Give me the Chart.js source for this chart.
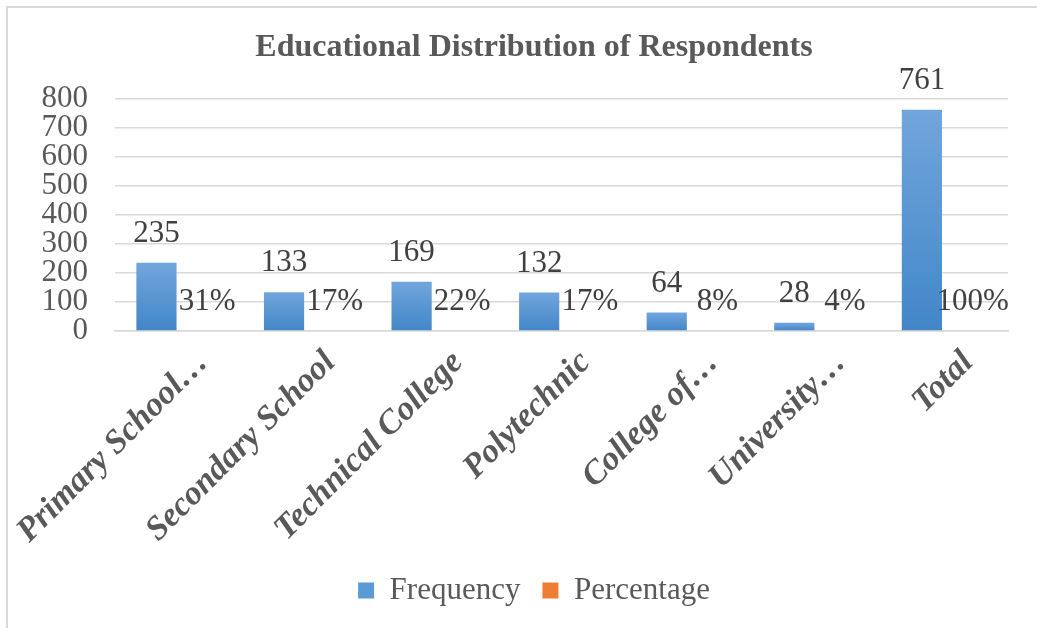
<!DOCTYPE html>
<html>
<head>
<meta charset="utf-8">
<title>Educational Distribution of Respondents</title>
<script src="https://cdn.jsdelivr.net/npm/chart.js@4.4.1/dist/chart.umd.min.js"></script>
<style>
    html, body { margin: 0; padding: 0; background: #fff; }
    #wrap { position: relative; width: 1037px; height: 628px; }
</style>
</head>
<body>
<div id="wrap">
    <canvas id="educationChart" width="1037" height="628"></canvas>
</div>
<script>
// Данные диаграммы
const categories = ["Primary School…", "Secondary School", "Technical College", "Polytechnic", "College of…", "University…", "Total"];
const frequency = [235, 133, 169, 132, 64, 28, 761];
const percentage = [0.31, 0.17, 0.22, 0.17, 0.08, 0.04, 1.00];
const yMin = 0;
const yMax = 800;
const yStep = 100;

const serif = "'Liberation Serif', 'Times New Roman', serif";
const axisColor = "#595959";
const labelColor = "#404040";

// Градиент для каждого столбца
function barGradient(context, top, bottom) {
    let chart = context.chart;
    if (!chart.chartArea || !chart.scales.y) return top;
    let y = chart.scales.y;
    let y0 = y.getPixelForValue(0);
    let y1 = y.getPixelForValue(context.raw || 0);
    if (!isFinite(y1) || Math.abs(y0 - y1) < 1) return "rgba(0,0,0,0)";
    let g = chart.ctx.createLinearGradient(0, y1, 0, y0);
    g.addColorStop(0, top);
    g.addColorStop(1, bottom);
    return g;
}

// Рамка слева и сверху
const framePlugin = {
    id: "frame",
    beforeDraw(chart) {
        let ctx = chart.ctx;
        ctx.save();
        ctx.strokeStyle = "#d9d9d9";
        ctx.lineWidth = 2;
        ctx.beginPath();
        ctx.moveTo(7, 628);
        ctx.lineTo(7, 7);
        ctx.lineTo(1037, 7);
        ctx.stroke();
        ctx.restore();
    }
};

// Подписи значений над столбцами
const valueLabels = {
    id: "valueLabels",
    afterDatasetsDraw(chart) {
        let ctx = chart.ctx;
        ctx.save();
        ctx.font = "31px " + serif;
        ctx.fillStyle = labelColor;
        ctx.textAlign = "center";
        ctx.textBaseline = "middle";
        chart.data.datasets.forEach((ds, i) => {
            let meta = chart.getDatasetMeta(i);
            meta.data.forEach((bar, j) => {
                let v = ds.data[j];
                let text = i === 1 ? Math.round(v * 100) + "%" : String(v);
                let dx = i === 1 ? 6 : 0;
                ctx.fillText(text, bar.x + dx, bar.y - 29);
            });
        });
        ctx.restore();
    }
};

let ctx = document.getElementById("educationChart").getContext("2d");
let educationChart = new Chart(ctx, {
    type: "bar",
    data: {
        labels: categories,
        datasets: [{
            label: "Frequency",
            data: frequency,
            backgroundColor: c => barGradient(c, "#71a6dc", "#4286c8"),
            categoryPercentage: 0.7,
            barPercentage: 0.9
        }, {
            label: "Percentage",
            data: percentage,
            backgroundColor: c => barGradient(c, "#f0914c", "#e4701f"),
            categoryPercentage: 0.7,
            barPercentage: 0.9
        }]
    },
    options: {
        responsive: false,
        animation: false,
        layout: { padding: { left: 36, right: 5, top: 10, bottom: 12 } },
        plugins: {
            tooltip: { enabled: false },
            title: {
                display: true,
                text: "Educational Distribution of Respondents",
                color: axisColor,
                font: { family: serif, size: 32, weight: "bold" },
                padding: { top: 19, bottom: 31 }
            },
            legend: {
                position: "bottom",
                labels: {
                    color: axisColor,
                    font: { family: serif, size: 31 },
                    boxWidth: 16,
                    boxHeight: 16,
                    padding: 22,
                    generateLabels: function (chart) {
                        let fills = ["#5b9bd5", "#ed7d31"];
                        return chart.data.datasets.map((ds, i) => ({
                            text: ds.label,
                            fillStyle: fills[i],
                            strokeStyle: fills[i],
                            lineWidth: 0,
                            fontColor: axisColor,
                            datasetIndex: i
                        }));
                    }
                }
            }
        },
        scales: {
            x: {
                grid: { display: false },
                border: { color: "#d9d9d9", width: 1.5 },
                ticks: {
                    color: axisColor,
                    font: { family: serif, size: 34, weight: "bold", style: "italic" },
                    minRotation: 45,
                    maxRotation: 45,
                    autoSkip: false,
                    padding: 4,
                    labelOffset: 24
                },
                afterFit: function (scale) {
                    scale.height = 222;
                    scale.paddingLeft = 0;
                    scale.paddingRight = 29;
                }
            },
            y: {
                min: yMin,
                max: yMax,
                grid: { color: "#d9d9d9", lineWidth: 1.5, drawTicks: false },
                border: { display: false },
                ticks: {
                    stepSize: yStep,
                    autoSkip: false,
                    color: axisColor,
                    font: { family: serif, size: 31 },
                    padding: 27
                },
                afterFit: function (scale) { scale.width = 79; }
            }
        }
    },
    plugins: [framePlugin, valueLabels]
});
</script>
</body>
</html>
